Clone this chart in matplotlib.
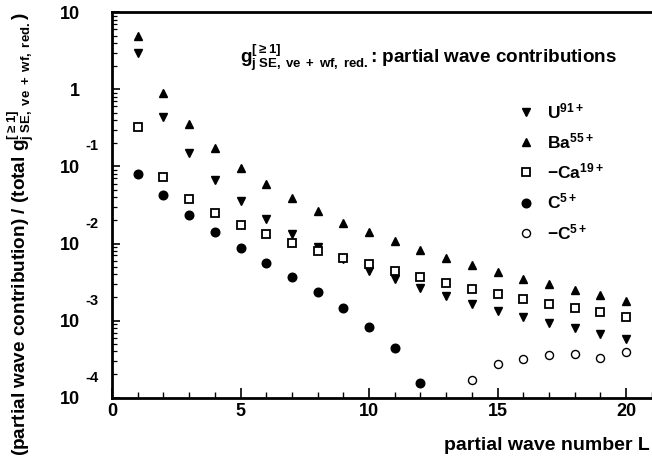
import matplotlib
matplotlib.use("Agg")
import matplotlib.pyplot as plt
import matplotlib.transforms as mtransforms
from matplotlib.ticker import LogLocator, MultipleLocator, NullFormatter

# ---- data ----
L = [1, 2, 3, 4, 5, 6, 7, 8, 9, 10, 11, 12, 13, 14, 15, 16, 17, 18, 19, 20]
U91 = [2.94, 0.443, 0.148, 0.0668, 0.0357, 0.0208, 0.0133, 0.00895, 0.00625, 0.00446,
       0.00344, 0.00268, 0.00209, 0.00165, 0.00133, 0.00113, 0.000942, 0.000796, 0.000678, 0.000575]
Ba55 = [4.93, 0.906, 0.356, 0.172, 0.0966, 0.0593, 0.0387, 0.0265, 0.01866, 0.01403,
        0.01071, 0.00826, 0.00656, 0.00523, 0.00432, 0.00351, 0.00296, 0.00252, 0.00215, 0.00182]
Ca19 = [0.328, 0.0738, 0.0379, 0.0247, 0.0174, 0.0132, 0.0101, 0.0081, 0.00644, 0.00539,
        0.00441, 0.00366, 0.00305, 0.00256, 0.00220, 0.00192, 0.00166, 0.00146, 0.00129, 0.00113]
L_C5 = [1, 2, 3, 4, 5, 6, 7, 8, 9, 10, 11, 12]
C5 = [0.080, 0.0427, 0.0235, 0.0143, 0.00885, 0.00565, 0.00366, 0.00233, 0.00145, 0.000836,
      0.000447, 0.000154]
L_negC5 = [14, 15, 16, 17, 18, 19, 20]
negC5 = [0.000170, 0.000272, 0.000316, 0.000356, 0.000373, 0.000331, 0.000393]

ytick_vals = [1e-4, 1e-3, 1e-2, 1e-1, 1, 10]
ytick_base = ['10', '10', '10', '10', '1', '10']
ytick_exp = ['-4', '-3', '-2', '-1', '', '']
xtick_vals = [0, 5, 10, 15, 20]

# ---- style ----
plt.rcParams['font.family'] = ['Liberation Sans', 'DejaVu Sans']
plt.rcParams['font.weight'] = 'bold'
plt.rcParams['mathtext.fontset'] = 'custom'
plt.rcParams['mathtext.rm'] = 'Liberation Sans:bold'
plt.rcParams['mathtext.it'] = 'Liberation Sans:bold'
plt.rcParams['mathtext.bf'] = 'Liberation Sans:bold'
plt.rcParams['mathtext.default'] = 'regular'

W, H = 652, 461
fig = plt.figure(figsize=(W / 100, H / 100), dpi=100)
left_px, top_px, bot_px = 112, 12.3, 397.7
xmax = 21.5
px_per_unit = 25.7
ax = fig.add_axes([left_px / W, 1 - bot_px / H, xmax * px_per_unit / W, (bot_px - top_px) / H])

ms = 5.8
ax.plot(L, U91, linestyle='none', marker='v', color='black', ms=ms + 0.6, label=r'U$^{91+}$')
ax.plot(L, Ba55, linestyle='none', marker='^', color='black', ms=ms + 0.6, label=r'Ba$^{55+}$')
ax.plot(L, Ca19, linestyle='none', marker='s', mfc='white', mec='black', mew=1.3, ms=ms,
        label=r'$-$Ca$^{19+}$')
ax.plot(L_C5, C5, linestyle='none', marker='o', color='black', ms=ms + 0.4, label=r'C$^{5+}$')
ax.plot(L_negC5, negC5, linestyle='none', marker='o', mfc='white', mec='black', mew=1.0, ms=ms,
        label=r'$-$C$^{5+}$')

ax.set_yscale('log')
ax.set_ylim(1e-4, 10)
ax.set_xlim(0, xmax)

for s in ax.spines.values():
    s.set_linewidth(2.0)

ax.xaxis.set_major_locator(MultipleLocator(5))
ax.xaxis.set_minor_locator(MultipleLocator(1))
ax.set_xticks(xtick_vals)
ax.set_xticklabels([str(v) for v in xtick_vals])
ax.tick_params(axis='x', which='major', direction='in', length=7, width=1.2, labelsize=13, pad=4)
ax.tick_params(axis='x', which='minor', direction='in', length=4.5, width=1.0)
ax.tick_params(top=False, right=False, which='both')

ax.set_yticks(ytick_vals)
ax.set_yticklabels(ytick_base)
ax.yaxis.set_minor_locator(LogLocator(base=10, subs=range(2, 10), numticks=20))
ax.yaxis.set_minor_formatter(NullFormatter())
ax.tick_params(axis='y', which='major', direction='in', length=6, width=1.2, labelsize=13, pad=23)
ax.tick_params(axis='y', which='minor', direction='in', length=3.5, width=0.9)
for lab in ax.get_xticklabels() + ax.get_yticklabels():
    lab.set_fontweight('bold')

# exponents of the y tick labels
trans = mtransforms.offset_copy(ax.get_yaxis_transform(), fig=fig, x=-27 * 0.72, y=20 * 0.72,
                                units='points')
for v, e in zip(ytick_vals, ytick_exp):
    if e:
        ax.text(0, v, e, transform=trans, ha='left', va='center', fontsize=10.5, fontweight='bold')

# axis labels
fig.text(650 / W, 1 - 445 / H, 'partial wave number L', ha='right', va='center',
         fontsize=14, fontweight='bold')
fig.text(21 / W, 1 - 234 / H,
         r'(partial wave contribution) / (total g$_{j\;SE,\;ve\;+\;wf,\;red.}^{[\geq 1]}$)',
         rotation=90, ha='center', va='center', fontsize=13.7, fontweight='bold')

# title inside plot
fig.text(240 / W, 1 - 63 / H,
         r'g$_{j\;SE,\;ve\;+\;wf,\;red.}^{[\geq 1]}$: partial wave contributions',
         ha='left', va='baseline', fontsize=13.6, fontweight='bold')

leg = ax.legend(loc='upper left', bbox_to_anchor=(517 / W, 1 - 101 / H),
                bbox_transform=fig.transFigure, frameon=False, numpoints=1,
                handlelength=1.0, handletextpad=0.7, labelspacing=0.6,
                prop={'weight': 'bold', 'size': 12.5}, borderaxespad=0, borderpad=0)

fig.savefig('out.png', dpi=100)
